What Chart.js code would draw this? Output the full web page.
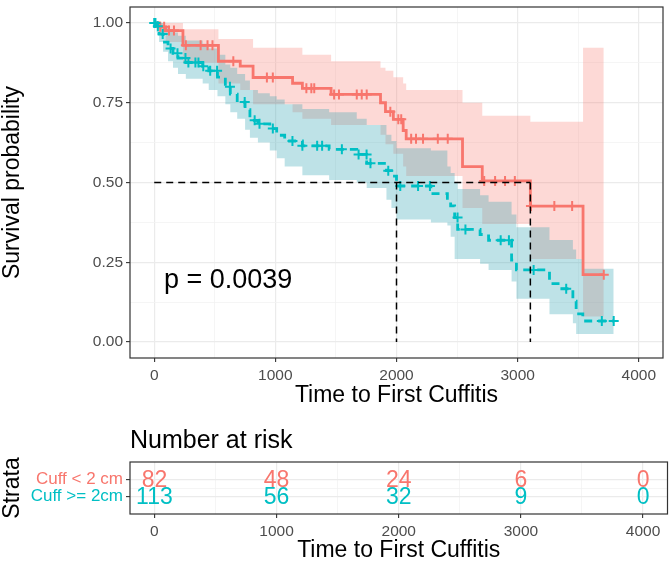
<!DOCTYPE html>
<html>
  <head>
    <meta charset="utf-8" />
    <title>Time to First Cuffitis</title>
    <style>
      body { margin: 0; background: #fff; }
      #wrap { position: relative; width: 670px; height: 563px; }
      #km { position: absolute; left: 0; top: 0; }
      #risk { position: absolute; left: 0; top: 420px; }
    </style>
  </head>
  <body>
    <div id="wrap">
      <canvas id="km" width="670" height="420"></canvas>
      <canvas id="risk" width="670" height="143"></canvas>
    </div>
    <script src="https://cdn.jsdelivr.net/npm/chart.js@4.4.0/dist/chart.umd.min.js"></script>
    <script>
      // Cuff < 2 cm (red)
      const redTime = [0, 40, 95, 237, 530, 710, 816, 1142, 1223, 1460, 1868, 1909, 1974, 2055, 2080, 2545, 2708, 3105, 3540, 3711];
      const redSurv = [1, 0.988, 0.976, 0.93, 0.88, 0.865, 0.829, 0.811, 0.795, 0.776, 0.75, 0.722, 0.698, 0.663, 0.637, 0.55, 0.505, 0.426, 0.211, 0.211];
      const redUpper = [1, 1, 1, 0.98, 0.95, 0.95, 0.922, 0.922, 0.9, 0.88, 0.86, 0.85, 0.83, 0.81, 0.79, 0.75, 0.709, 0.69, 0.922, 0.922];
      const redLower = [1, 0.965, 0.94, 0.875, 0.81, 0.79, 0.745, 0.72, 0.7, 0.68, 0.65, 0.62, 0.59, 0.55, 0.52, 0.42, 0.37, 0.26, 0.08, 0.08];
      const redCensor = [50, 82, 122, 163, 261, 383, 440, 481, 653, 930, 979, 1256, 1297, 1321, 1485, 1525, 1672, 1713, 1754, 1949, 2015, 2039, 2121, 2161, 2219, 2341, 2423, 2724, 2814, 2896, 2977, 3110, 3303, 3450, 3711];

      // Cuff >= 2cm (teal)
      const tealTime = [0, 20, 40, 73, 114, 155, 196, 261, 400, 450, 522, 587, 628, 685, 750, 790, 856, 954, 1011, 1077, 1223, 1444, 1672, 1754, 1917, 1958, 2000, 2284, 2420, 2447, 2480, 2505, 2690, 2760, 2950, 2990, 3263, 3334, 3456, 3483, 3538, 3793];
      const tealSurv = [1, 0.99, 0.965, 0.94, 0.92, 0.905, 0.89, 0.876, 0.864, 0.85, 0.83, 0.8, 0.777, 0.752, 0.728, 0.695, 0.684, 0.669, 0.648, 0.63, 0.615, 0.604, 0.588, 0.56, 0.537, 0.52, 0.489, 0.465, 0.45, 0.427, 0.39, 0.353, 0.337, 0.319, 0.257, 0.226, 0.183, 0.167, 0.128, 0.088, 0.066, 0.066];
      const tealUpper = [1, 1, 1, 0.99, 0.98, 0.97, 0.96, 0.945, 0.935, 0.92, 0.9, 0.87, 0.86, 0.84, 0.82, 0.79, 0.78, 0.77, 0.76, 0.745, 0.73, 0.72, 0.7, 0.68, 0.65, 0.63, 0.607, 0.6, 0.55, 0.53, 0.5, 0.48, 0.46, 0.44, 0.4, 0.36, 0.32, 0.32, 0.29, 0.26, 0.23, 0.23];
      const tealLower = [1, 0.97, 0.94, 0.91, 0.88, 0.86, 0.84, 0.825, 0.81, 0.79, 0.77, 0.745, 0.72, 0.7, 0.665, 0.64, 0.625, 0.6, 0.576, 0.55, 0.523, 0.508, 0.5, 0.483, 0.446, 0.42, 0.384, 0.375, 0.365, 0.33, 0.26, 0.26, 0.245, 0.226, 0.19, 0.136, 0.087, 0.087, 0.059, 0.025, 0.025, 0.025];
      const tealCensor = [0, 10, 30, 70, 135, 192, 258, 282, 340, 365, 405, 462, 519, 625, 747, 829, 869, 979, 1141, 1223, 1345, 1386, 1549, 1687, 1753, 1785, 1932, 2031, 2178, 2276, 2504, 2569, 2860, 2928, 3132, 3401, 3695, 3793];

      const medians = [2000, 3105];
      const pValue = "p = 0.0039";

      // risk table
      const strata = ["Cuff < 2 cm", "Cuff >= 2cm"];
      const riskTimes = [0, 1000, 2000, 3000, 4000];
      const riskRed = [82, 48, 24, 6, 0];
      const riskTeal = [113, 56, 32, 9, 0];

      const xTicks = [0, 500, 1000, 1500, 2000, 2500, 3000, 3500, 4000];
      const yTicks = [0, 0.125, 0.25, 0.375, 0.5, 0.625, 0.75, 0.875, 1];

      const RED = "#F8766D";
      const TEAL = "#00BFC4";
      const FONT = "'Liberation Sans', Arial, sans-serif";

      function pts(ts, vs) {
        return ts.map((t, i) => ({ x: t, y: vs[i] }));
      }
      function survAt(ts, vs, t) {
        let v = vs[0];
        for (let i = 0; i < ts.length; i++) if (ts[i] <= t) v = vs[i];
        return v;
      }
      function censorPts(cs, ts, vs) {
        return cs.map((t) => ({ x: t, y: survAt(ts, vs, t) }));
      }
      const isMajorX = (v) => v % 1000 === 0;
      const isMajorY = (v) => Math.abs(v * 4 - Math.round(v * 4)) < 1e-9;

      const panelBorder = {
        id: "panelBorder",
        afterDatasetsDraw(chart) {
          const a = chart.chartArea;
          const ctx = chart.ctx;
          ctx.save();
          ctx.strokeStyle = "#333333";
          ctx.lineWidth = 1.2;
          ctx.strokeRect(a.left, a.top, a.right - a.left, a.bottom - a.top);
          ctx.restore();
        },
      };

      const pLabel = {
        id: "pLabel",
        afterDatasetsDraw(chart) {
          const ctx = chart.ctx;
          const x = chart.scales.x.getPixelForValue(80);
          const y = chart.scales.y.getPixelForValue(0.17);
          ctx.save();
          ctx.font = "27px " + FONT;
          ctx.fillStyle = "#000";
          ctx.textAlign = "left";
          ctx.textBaseline = "alphabetic";
          ctx.fillText(pValue, x, y);
          ctx.restore();
        },
      };

      function xScale(height, labelPad, titlePad) {
        return {
          type: "linear",
          min: -200,
          max: 4200,
          afterBuildTicks: (s) => { s.ticks = xTicks.map((v) => ({ value: v })); },
          afterFit: (s) => { s.height = height; s.paddingLeft = 0; s.paddingRight = 0; },
          border: { display: false },
          grid: {
            color: (c) => (isMajorX(c.tick.value) ? "#EBEBEB" : "#F3F3F3"),
            lineWidth: (c) => (isMajorX(c.tick.value) ? 1.2 : 0.8),
            tickColor: (c) => (isMajorX(c.tick.value) ? "#333333" : "rgba(0,0,0,0)"),
            tickLength: 4,
            tickWidth: 1.1,
          },
          ticks: {
            autoSkip: false,
            maxRotation: 0,
            padding: labelPad,
            color: "#4D4D4D",
            font: { family: FONT, size: 15.5 },
            callback: (v) => (isMajorX(v) ? String(v) : ""),
          },
          title: {
            display: true,
            text: "Time to First Cuffitis",
            color: "#000",
            font: { family: FONT, size: 23, lineHeight: 1 },
            padding: { top: 0, bottom: titlePad },
          },
        };
      }

      new Chart(document.getElementById("km"), {
        type: "line",
        data: {
          datasets: [
            { data: pts(redTime, redUpper), stepped: true, fill: "+1", backgroundColor: "rgba(248,118,109,0.28)", borderColor: "rgba(0,0,0,0)", pointRadius: 0, order: 12 },
            { data: pts(redTime, redLower), stepped: true, fill: false, borderColor: "rgba(0,0,0,0)", pointRadius: 0, order: 12 },
            { data: pts(tealTime, tealUpper), stepped: true, fill: "+1", backgroundColor: "rgba(40,160,175,0.3)", borderColor: "rgba(0,0,0,0)", pointRadius: 0, order: 11 },
            { data: pts(tealTime, tealLower), stepped: true, fill: false, borderColor: "rgba(0,0,0,0)", pointRadius: 0, order: 11 },
            { data: pts(redTime, redSurv), stepped: true, fill: false, borderColor: RED, borderWidth: 2.8, pointRadius: 0, order: 6 },
            { data: pts(tealTime, tealSurv), stepped: true, fill: false, borderColor: TEAL, borderWidth: 2.8, borderDash: [8, 6], pointRadius: 0, order: 5 },
            { data: censorPts(redCensor, redTime, redSurv), showLine: false, pointStyle: "cross", pointRadius: 5, pointBorderWidth: 2, pointBorderColor: RED, order: 4 },
            { data: censorPts(tealCensor, tealTime, tealSurv), showLine: false, pointStyle: "cross", pointRadius: 5, pointBorderWidth: 2, pointBorderColor: TEAL, order: 3 },
            { data: [{ x: 0, y: 0.5 }, { x: Math.max(...medians), y: 0.5 }], borderColor: "#000", borderWidth: 1.5, borderDash: [7, 5], pointRadius: 0, fill: false, order: 1 },
            { data: [{ x: medians[0], y: 0.5 }, { x: medians[0], y: 0 }], borderColor: "#000", borderWidth: 1.5, borderDash: [7, 5], pointRadius: 0, fill: false, order: 1 },
            { data: [{ x: medians[1], y: 0.5 }, { x: medians[1], y: 0 }], borderColor: "#000", borderWidth: 1.5, borderDash: [7, 5], pointRadius: 0, fill: false, order: 1 },
          ],
        },
        options: {
          animation: false,
          responsive: false,
          layout: { padding: { top: 1.5, right: 2.5, left: 0, bottom: 0 } },
          plugins: { legend: { display: false }, tooltip: { enabled: false } },
          scales: {
            x: xScale(62, 4, 12.5),
            y: {
              type: "linear",
              min: -0.05,
              max: 1.05,
              afterBuildTicks: (s) => { s.ticks = yTicks.map((v) => ({ value: v })); },
              afterFit: (s) => { s.width = 130; s.paddingTop = 0; s.paddingBottom = 0; },
              border: { display: false },
              grid: {
                color: (c) => (isMajorY(c.tick.value) ? "#EBEBEB" : "#F3F3F3"),
                lineWidth: (c) => (isMajorY(c.tick.value) ? 1.2 : 0.8),
                tickColor: (c) => (isMajorY(c.tick.value) ? "#333333" : "rgba(0,0,0,0)"),
                tickLength: 4,
                tickWidth: 1.1,
              },
              ticks: {
                autoSkip: false,
                padding: 3,
                color: "#4D4D4D",
                font: { family: FONT, size: 15.5 },
                callback: (v) => (isMajorY(v) ? v.toFixed(2) : ""),
              },
              title: {
                display: true,
                text: "Survival probability",
                color: "#000",
                font: { family: FONT, size: 23, lineHeight: 1 },
                padding: { top: 1, bottom: 0 },
              },
            },
          },
        },
        plugins: [panelBorder, pLabel],
      });

      const riskNumbers = {
        id: "riskNumbers",
        afterDatasetsDraw(chart) {
          const ctx = chart.ctx;
          const xs = chart.scales.x;
          const ys = chart.scales.y;
          const rows = [riskRed, riskTeal];
          const cols = [RED, TEAL];
          ctx.save();
          ctx.font = "23px " + FONT;
          ctx.textAlign = "center";
          ctx.textBaseline = "middle";
          rows.forEach((row, r) => {
            ctx.fillStyle = cols[r];
            row.forEach((n, i) => {
              ctx.fillText(String(n), xs.getPixelForValue(riskTimes[i]), ys.getPixelForValue(r + 1) + 1);
            });
          });
          ctx.restore();
        },
      };

      new Chart(document.getElementById("risk"), {
        type: "line",
        data: { datasets: [] },
        options: {
          animation: false,
          responsive: false,
          layout: { padding: { top: 0, right: 2.5, left: 0, bottom: 0 } },
          plugins: {
            legend: { display: false },
            tooltip: { enabled: false },
            title: {
              display: true,
              text: "Number at risk",
              align: "start",
              fullSize: false,
              color: "#000",
              font: { family: FONT, size: 25, weight: "normal", lineHeight: 1 },
              padding: { top: 8.5, bottom: 8.5 },
            },
          },
          scales: {
            x: xScale(49, 4.5, 0.5),
            y: {
              type: "linear",
              min: 0,
              max: 3,
              reverse: true,
              afterBuildTicks: (s) => { s.ticks = [1, 1.5, 2].map((v) => ({ value: v })); },
              afterFit: (s) => { s.width = 130; s.paddingTop = 0; s.paddingBottom = 0; },
              border: { display: false },
              grid: {
                color: (c) => (c.tick.value % 1 === 0 ? "#EBEBEB" : "#F3F3F3"),
                lineWidth: (c) => (c.tick.value % 1 === 0 ? 1.2 : 0.8),
                tickColor: (c) => (c.tick.value % 1 === 0 ? "#333333" : "rgba(0,0,0,0)"),
                tickLength: 4,
                tickWidth: 1.1,
              },
              ticks: {
                autoSkip: false,
                padding: 3,
                color: (c) => (c.tick.value === 1 ? RED : TEAL),
                font: { family: FONT, size: 17 },
                callback: (v) => (v % 1 === 0 ? strata[v - 1] : ""),
              },
              title: {
                display: true,
                text: "Strata",
                color: "#000",
                font: { family: FONT, size: 23, lineHeight: 1 },
                padding: { top: 1, bottom: 0 },
              },
            },
          },
        },
        plugins: [panelBorder, riskNumbers],
      });
    </script>
  </body>
</html>
